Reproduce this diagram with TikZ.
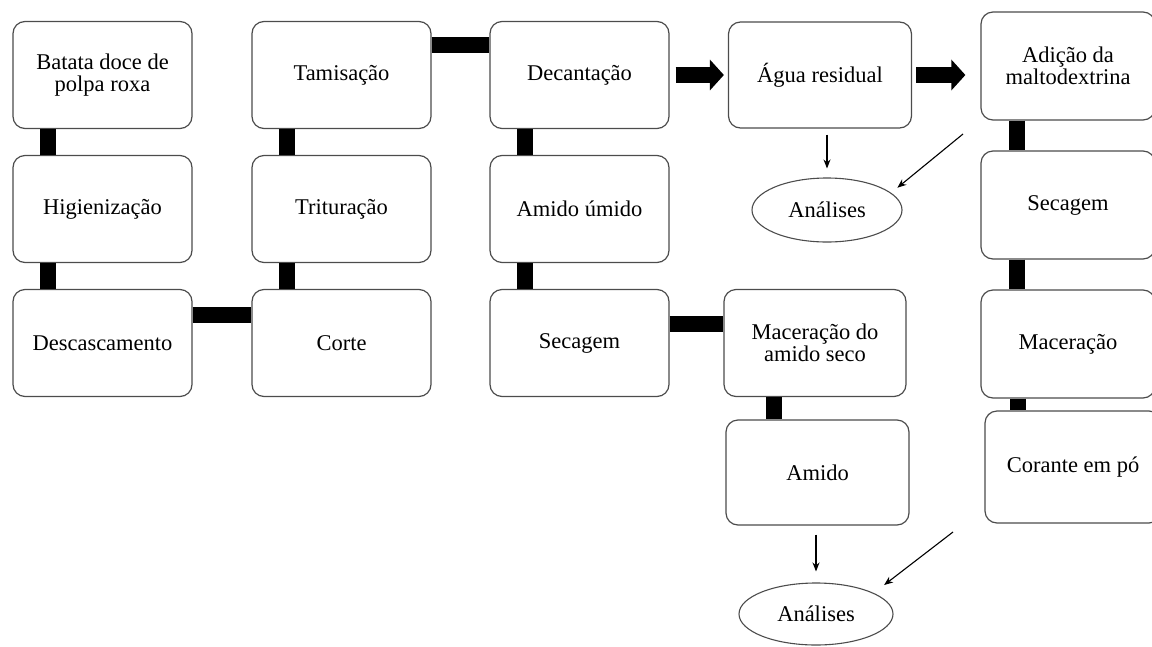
\documentclass[tikz,border=0pt]{standalone}
\usepackage{fontspec}
\setmainfont{Liberation Serif}
\usetikzlibrary{arrows.meta,shapes.geometric}
\begin{document}
\begin{tikzpicture}[x=1pt,y=-1pt,
  box/.style={draw=black!70, line width=1.2pt, rounded corners=12pt, align=center,
    font=\fontsize{22.5}{22}\selectfont, minimum width=179pt, minimum height=107pt, inner sep=2pt},
  oval/.style={ellipse, draw=black!70, line width=1.1pt, font=\fontsize{22.5}{22}\selectfont,
    minimum width=150pt, minimum height=64pt, inner sep=0pt},
  bar/.style={line width=16pt},
  blockarrow/.style={line width=16pt, -{Triangle[length=14pt,width=30pt]}},
  thinarrow/.style={line width=1.1pt, -{Stealth[length=9pt,width=7pt]}}]
\useasboundingbox (0,0) rectangle (1152,646);
% column 1
\node[box] (b1) at (102.5,75) {Batata doce de\\polpa roxa};
\node[box] (b2) at (102.5,209) {Higienização};
\node[box] (b3) at (102.5,343) {Descascamento};
% column 2
\node[box] (c1) at (341.5,75) {Tamisação};
\node[box] (c2) at (341.5,209) {Trituração};
\node[box] (c3) at (341.5,343) {Corte};
% column 3
\node[box] (d1) at (579.5,75) {Decantação};
\node[box] (d2) at (579.5,209) {Amido úmido};
\node[box] (d3) at (579.5,343) {Secagem};
% column 4
\node[box, minimum width=183pt, minimum height=106pt] (agua) at (820,75) {Água residual};
\node[oval] (an1) at (827,210) {Análises};
\node[box, minimum width=182pt] (mac) at (815,343) {Maceração do\\amido seco};
\node[box, minimum width=183pt, minimum height=105pt] (amido) at (817.5,472.5) {Amido};
\node[oval, minimum width=154pt, minimum height=62pt] (an2) at (816,614) {Análises};
% right column
\node[box, minimum width=174pt, minimum height=108pt] (r1) at (1068,66) {Adição da\\maltodextrina};
\node[box, minimum width=174pt, minimum height=108pt] (r2) at (1068,205) {Secagem};
\node[box, minimum width=174pt, minimum height=108pt] (r3) at (1068,344) {Maceração};
\node[box, minimum width=176pt, minimum height=112pt] (r4) at (1073,467) {Corante em pó};
% thick bars
\draw[bar] ([xshift=36]b1.south west) -- ([xshift=36]b2.north west);
\draw[bar] ([xshift=36]b2.south west) -- ([xshift=36]b3.north west);
\draw[bar] ([yshift=-26]b3.north east) -- ([yshift=-26]c3.north west);
\draw[bar] ([xshift=36]c3.north west) -- ([xshift=36]c2.south west);
\draw[bar] ([xshift=36]c2.north west) -- ([xshift=36]c1.south west);
\draw[bar] ([yshift=-24.5]c1.north east) -- ([yshift=-24.5]d1.north west);
\draw[bar] ([xshift=36]d1.south west) -- ([xshift=36]d2.north west);
\draw[bar] ([xshift=36]d2.south west) -- ([xshift=36]d3.north west);
\draw[bar] ([yshift=-35]d3.north east) -- ([yshift=-35]mac.north west);
\draw[bar] ([xshift=51]mac.south west) -- ([xshift=51]mac.south west |- amido.north);
\draw[bar] ([xshift=37]r1.south west) -- ([xshift=37]r2.north west);
\draw[bar] ([xshift=37]r2.south west) -- ([xshift=37]r3.north west);
\draw[bar] ([xshift=38]r3.south west) -- ([xshift=38]r3.south west |- r4.north);
% block arrows
\draw[blockarrow] ([xshift=6]d1.east) -- ([xshift=-4]agua.west |- d1.east);
\draw[blockarrow] ([xshift=4]agua.east) -- ([xshift=-15]r1.west |- agua.east);
% thin arrows
\coordinate (s1) at (963,134);
\coordinate (s2) at (953,532);
\draw[thinarrow, shorten <=6pt, shorten >=9pt] (an1.north |- agua.south) -- (an1.north);
\draw[thinarrow, shorten >=8pt] (s1) -- (an1.15);
\draw[thinarrow, shorten <=9pt, shorten >=11pt] (an2.north |- amido.south) -- (an2.north);
\draw[thinarrow, shorten >=13pt] (s2) -- (an2.20);
\end{tikzpicture}
\end{document}
